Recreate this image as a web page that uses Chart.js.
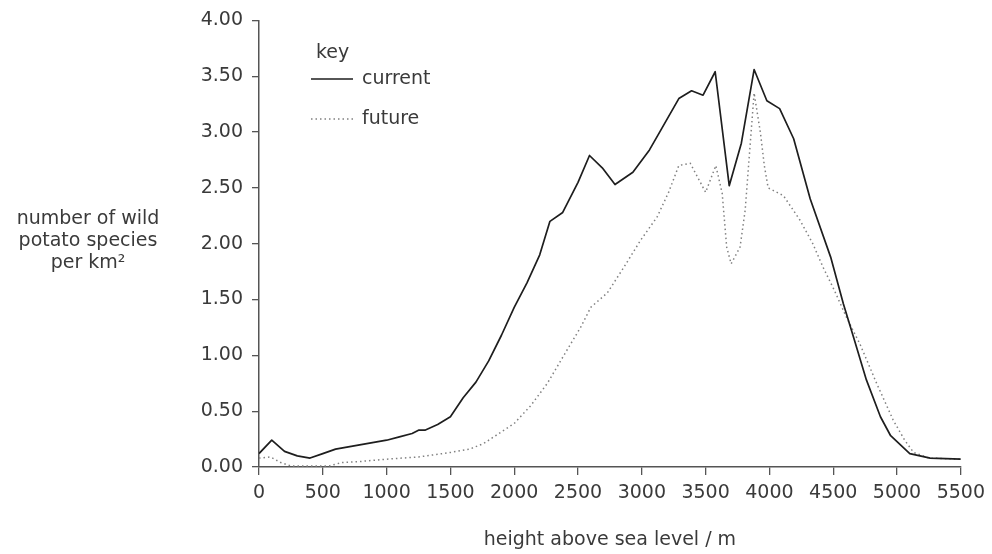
<!DOCTYPE html>
<html>
<head>
<meta charset="utf-8">
<script src="https://cdn.jsdelivr.net/npm/chart.js@4.4.1/dist/chart.umd.min.js"></script>
<style>
  html, body { margin: 0; padding: 0; background: #ffffff; }
  #wrap { width: 992px; height: 554px; position: relative; }
</style>
</head>
<body>
<div id="wrap"><canvas id="c" width="992" height="554"></canvas></div>
<script>
// ---- data ----
const currentHeights = [0, 100, 200, 300, 400, 500, 600, 700, 800, 900, 1000, 1100, 1200, 1250, 1300, 1400, 1500, 1600, 1700, 1800, 1900, 2000, 2100, 2200, 2280, 2380, 2500, 2590, 2690, 2790, 2930, 3060, 3150, 3290, 3390, 3480, 3575, 3685, 3780, 3880, 3980, 4080, 4190, 4320, 4480, 4580, 4660, 4760, 4870, 4950, 5100, 5260, 5500];
const currentValues  = [0.12, 0.24, 0.14, 0.10, 0.08, 0.12, 0.16, 0.18, 0.20, 0.22, 0.24, 0.27, 0.30, 0.33, 0.33, 0.38, 0.45, 0.62, 0.76, 0.95, 1.18, 1.43, 1.65, 1.90, 2.20, 2.28, 2.55, 2.79, 2.68, 2.53, 2.64, 2.84, 3.02, 3.30, 3.37, 3.33, 3.54, 2.52, 2.90, 3.56, 3.28, 3.21, 2.94, 2.40, 1.88, 1.46, 1.16, 0.78, 0.45, 0.28, 0.12, 0.08, 0.07];

const futureHeights = [0, 90, 170, 250, 400, 550, 650, 800, 1000, 1250, 1500, 1650, 1760, 1880, 2000, 2130, 2260, 2410, 2520, 2600, 2730, 2860, 2990, 3120, 3210, 3290, 3380, 3500, 3580, 3630, 3665, 3700, 3770, 3810, 3840, 3880, 3930, 3960, 3990, 4110, 4240, 4340, 4420, 4510, 4600, 4710, 4840, 4970, 5060, 5130, 5250, 5500];
const futureValues  = [0.08, 0.09, 0.04, 0.01, 0.01, 0.01, 0.04, 0.05, 0.07, 0.09, 0.13, 0.16, 0.21, 0.30, 0.39, 0.55, 0.75, 1.04, 1.25, 1.43, 1.56, 1.79, 2.03, 2.24, 2.46, 2.70, 2.72, 2.46, 2.70, 2.45, 1.97, 1.82, 1.97, 2.30, 2.75, 3.35, 2.99, 2.70, 2.50, 2.43, 2.21, 2.00, 1.79, 1.58, 1.35, 1.10, 0.75, 0.42, 0.24, 0.13, 0.08, 0.07];

const seriesLabels = ['current', 'future'];
const legendTitle = 'key';
const yTitleLines = ['number of wild', 'potato species', 'per km\u00B2'];
const xTitle = 'height above sea level / m';

// ---- styling ----
const FONT = 'DejaVu Sans';
const TEXT = '#3a3a3a';
const AXIS = '#555555';

const toPoints = (xs, ys) => xs.map((x, i) => ({ x: x, y: ys[i] }));

const overlayPlugin = {
  id: 'overlay',
  afterDraw(chart) {
    const ctx = chart.ctx;
    ctx.save();
    ctx.fillStyle = TEXT;
    ctx.font = '19px "' + FONT + '"';
    // y-axis title (horizontal, three lines)
    ctx.textAlign = 'center';
    ctx.textBaseline = 'alphabetic';
    const yBase = [224, 246, 268];
    yTitleLines.forEach((t, i) => ctx.fillText(t, 88, yBase[i]));
    // key
    ctx.textAlign = 'left';
    ctx.fillText(legendTitle, 316, 58);
    const ds = chart.data.datasets;
    const rows = [79, 119];
    rows.forEach((y, i) => {
      const d = ds[i];
      ctx.beginPath();
      ctx.strokeStyle = d.borderColor;
      ctx.lineWidth = d.borderWidth;
      ctx.setLineDash(d.borderDash || []);
      ctx.moveTo(311, y);
      ctx.lineTo(353, y);
      ctx.stroke();
      ctx.setLineDash([]);
      ctx.fillStyle = TEXT;
      ctx.fillText(d.label, 362, y + 5);
    });
    ctx.restore();
  }
};

new Chart(document.getElementById('c'), {
  type: 'line',
  data: {
    datasets: [
      {
        label: seriesLabels[0],
        data: toPoints(currentHeights, currentValues),
        borderColor: '#1e1e1e',
        borderWidth: 1.7,
        pointRadius: 0,
        tension: 0,
        borderJoinStyle: 'round',
        fill: false
      },
      {
        label: seriesLabels[1],
        data: toPoints(futureHeights, futureValues),
        borderColor: '#808080',
        borderWidth: 1.5,
        borderDash: [1.5, 3],
        pointRadius: 0,
        tension: 0,
        fill: false
      }
    ]
  },
  options: {
    responsive: false,
    animation: false,
    events: [],
    layout: { padding: { left: 0, right: 31, top: 20, bottom: 0 } },
    plugins: {
      legend: { display: false },
      tooltip: { enabled: false }
    },
    scales: {
      x: {
        type: 'linear',
        min: 0,
        max: 5500,
        afterFit(scale) { scale.height = 87; },
        ticks: {
          stepSize: 500,
          color: TEXT,
          padding: 7,
          maxRotation: 0,
          autoSkip: false,
          font: { family: FONT, size: 19 },
          callback: (v) => String(v)
        },
        grid: { drawOnChartArea: false, tickLength: 8, color: AXIS, lineWidth: 1.3 },
        border: { display: true, color: AXIS, width: 1.5 },
        title: {
          display: true,
          text: xTitle,
          color: TEXT,
          font: { family: FONT, size: 19 },
          padding: { top: 0, bottom: 3 }
        }
      },
      y: {
        min: 0,
        max: 4,
        afterFit(scale) { scale.width = 259; },
        ticks: {
          stepSize: 0.5,
          color: TEXT,
          padding: 9,
          font: { family: FONT, size: 19 },
          callback: (v) => Number(v).toFixed(2)
        },
        grid: { drawOnChartArea: false, tickLength: 7, color: AXIS, lineWidth: 1.3 },
        border: { display: true, color: AXIS, width: 1.5 }
      }
    }
  },
  plugins: [overlayPlugin]
});
</script>
</body>
</html>
